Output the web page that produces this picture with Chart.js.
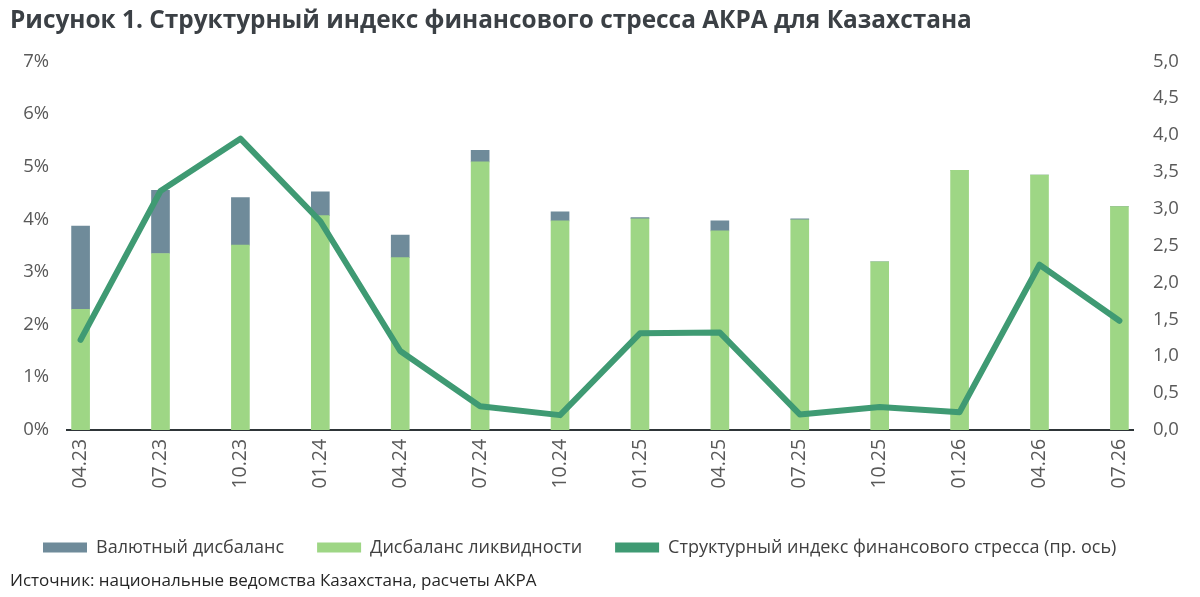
<!DOCTYPE html>
<html><head><meta charset="utf-8">
<script src="https://cdn.jsdelivr.net/npm/chart.js@4"></script>
<style>html,body{margin:0;padding:0;background:#fff}#wrap{width:1200px;height:597px}</style>
</head><body><div id="wrap"><canvas id="c" width="1200" height="597"></canvas></div>
<script>
const categories = ['04.23','07.23','10.23','01.24','04.24','07.24','10.24','01.25','04.25','07.25','10.25','01.26','04.26','07.26'];
const liquidityImbalance = [2.29,3.35,3.51,4.07,3.27,5.09,3.97,4.01,3.78,3.99,3.19,4.93,4.84,4.24];
const currencyImbalance  = [1.58,1.20,0.90,0.45,0.43,0.22,0.17,0.02,0.19,0.02,0.00,0.00,0.00,0.00];
const stressIndex        = [1.22,3.24,3.95,2.83,1.07,0.32,0.20,1.31,1.32,0.21,0.31,0.24,2.24,1.48];
const leftTicks  = [0,1,2,3,4,5,6,7];
const rightTicks = [0,0.5,1,1.5,2,2.5,3,3.5,4,4.5,5];

const toXY = arr => arr.map((v, i) => ({x: i, y: v}));
const FONT = "'Open Sans', 'Noto Sans', sans-serif";

new Chart(document.getElementById('c'), {
  data: {
    datasets: [
      { type: 'bar', label: 'Валютный дисбаланс', data: toXY(currencyImbalance),
        backgroundColor: '#6f8b9a', barThickness: 18, yAxisID: 'y', order: 2 },
      { type: 'bar', label: 'Дисбаланс ликвидности', data: toXY(liquidityImbalance),
        backgroundColor: '#9ed685', barThickness: 18, yAxisID: 'y', order: 1 },
      { type: 'line', label: 'Структурный индекс финансового стресса (пр. ось)', data: toXY(stressIndex),
        borderColor: '#3f9a73', backgroundColor: '#3f9a73', borderWidth: 6,
        borderCapStyle: 'round', borderJoinStyle: 'round', pointRadius: 0, tension: 0,
        yAxisID: 'y2', order: 0 }
    ]
  },
  options: {
    responsive: false, animation: false, devicePixelRatio: 1,
    layout: { padding: { left: 10, right: 0, top: 4, bottom: 6 } },
    scales: {
      x: {
        type: 'linear', stacked: true, offset: false, min: -0.17, max: categories.length - 1 + 0.17,
        afterBuildTicks: s => { s.ticks = categories.map((_, i) => ({ value: i })); },
        afterFit: s => { s.height = s.height + 8; },
        ticks: { callback: v => categories[v], minRotation: 90, maxRotation: 90, padding: 9,
                 color: '#595959', font: { family: FONT, size: 19.5 } },
        grid: { display: false, drawTicks: false },
        border: { display: true, color: '#2e3538', width: 2 }
      },
      y: {
        position: 'left', stacked: true, min: 0, max: 7,
        afterBuildTicks: s => { s.ticks = leftTicks.map(v => ({ value: v })); },
        afterFit: s => { s.width = 57; },
        ticks: { callback: v => v + '%', padding: 18, color: '#595959', font: { family: FONT, size: 18.5 } },
        grid: { display: false, drawTicks: false },
        border: { display: false }
      },
      y2: {
        position: 'right', stacked: false, min: 0, max: 5,
        afterBuildTicks: s => { s.ticks = rightTicks.map(v => ({ value: v })); },
        afterFit: s => { s.width = 67; },
        ticks: { callback: v => v.toFixed(1).replace('.', ','), padding: 20, color: '#595959', font: { family: FONT, size: 18.5 } },
        grid: { display: false, drawTicks: false },
        border: { display: false }
      }
    },
    plugins: {
      title: { display: true, align: 'start', text: 'Рисунок 1. Структурный индекс финансового стресса АКРА для Казахстана',
               color: '#3b4045', font: { family: FONT, size: 24.4, weight: 'bold' }, padding: { top: 2, bottom: 26 } },
      subtitle: { display: true, position: 'bottom', align: 'start',
               text: 'Источник: национальные ведомства Казахстана, расчеты АКРА',
               color: '#262626', font: { family: FONT, size: 17 }, padding: { top: 4, bottom: 0 } },
      legend: {
        position: 'bottom', align: 'start',
        labels: {
          boxWidth: 44, boxHeight: 10, padding: 33, color: '#404040', font: { family: FONT, size: 18 },
          sort: (a, b) => a.datasetIndex - b.datasetIndex,
          generateLabels: chart => chart.data.datasets.map((d, i) => ({
            text: d.label, fillStyle: d.type === 'line' ? d.borderColor : d.backgroundColor,
            strokeStyle: d.type === 'line' ? d.borderColor : d.backgroundColor, lineWidth: 0,
            hidden: false, datasetIndex: i, fontColor: '#404040'
          }))
        }
      },
      tooltip: { enabled: false }
    }
  }
});
</script></body></html>
